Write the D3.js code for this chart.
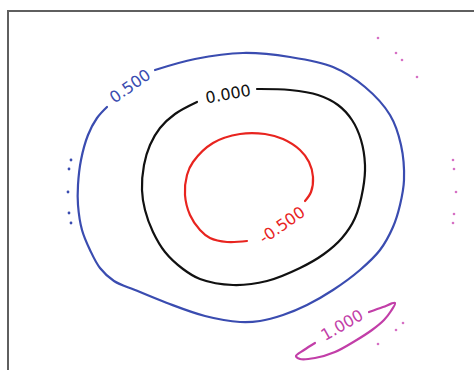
<!DOCTYPE html>
<html>
<head>
<meta charset="utf-8">
<script src="https://cdn.jsdelivr.net/npm/d3@7"></script>
<style>
  html, body { margin: 0; padding: 0; background: #fff; }
  svg { display: block; }
</style>
</head>
<body>
<svg id="chart" width="474" height="370"></svg>
<script>
// Contour levels and their colours
const levels = [-0.5, 0.0, 0.5, 1.0];
const levelColors = ["#e8241f", "#111111", "#3a4cb0", "#c23ea8"];
const levelLabels = ["-0.500", "0.000", "0.500", "1.000"];

// Contour lines (x, y), each broken where its label sits
const contourNeg05 = [
  [23.9, 14.0], [21.9, 13.9], [20.2, 14.3], [19.2, 15.1], [18.2, 16.6], [17.7, 18.6],
  [17.9, 20.6], [18.5, 21.9], [20.5, 23.8], [23.2, 24.7], [25.7, 24.7], [27.5, 24.2],
  [29.2, 23.1], [30.1, 21.9], [30.5, 20.4], [30.3, 18.9], [29.7, 18.0]
];
const contour00 = [
  [24.9, 29.2], [28.2, 29.1], [31.0, 28.6], [33.0, 27.6], [34.4, 26.1], [35.3, 24.1],
  [35.7, 21.6], [35.5, 19.2], [34.7, 16.3], [33.4, 14.3], [31.6, 12.7], [29.2, 11.3],
  [25.9, 10.0], [22.5, 9.6], [19.2, 10.2], [17.5, 11.2], [15.7, 12.9], [14.5, 14.9],
  [13.7, 17.1], [13.4, 19.1], [13.6, 21.6], [14.2, 23.6], [15.2, 25.3], [16.7, 26.7],
  [18.9, 27.9]
];
const contour05 = [
  [14.7, 31.1], [18.7, 32.2], [23.5, 32.8], [28.2, 32.4], [32.5, 31.4], [35.7, 29.4],
  [38.2, 26.6], [39.3, 23.6], [39.6, 20.1], [39.2, 17.6], [38.5, 15.4], [37.2, 13.1],
  [35.2, 11.1], [32.5, 9.1], [29.9, 7.6], [27.5, 6.6], [25.2, 6.0], [23.2, 5.9],
  [19.7, 6.5], [15.9, 7.8], [12.7, 9.1], [10.6, 10.0], [9.2, 11.3], [8.2, 13.1],
  [7.4, 15.1], [7.0, 17.6], [7.0, 19.6], [7.3, 22.1], [8.0, 24.6], [8.9, 26.3], [9.9, 27.4]
];
const contour10 = [
  [36.1, 6.9], [37.5, 7.4], [38.7, 7.8], [38.3, 7.0], [37.6, 6.1], [36.4, 5.1],
  [34.7, 4.0], [32.7, 2.9], [30.7, 2.3], [29.2, 2.2], [28.8, 2.5], [29.6, 3.1], [30.7, 3.8]
];
const contourLines = [contourNeg05, contour00, contour05, contour10];

// Tiny closed contours (islands) at levels 0.5 and 1.0
const islands05 = [[6.3, 22.1], [6.1, 21.2], [6.0, 18.9], [6.1, 16.8], [6.3, 15.8]];
const islands10 = [
  [37.0, 34.3], [38.8, 32.8], [39.4, 32.1], [40.9, 30.4],
  [44.5, 22.1], [44.6, 21.2], [44.8, 18.9], [44.6, 16.7], [44.5, 15.8],
  [39.5, 5.8], [38.8, 5.1], [37.0, 3.7]
];

// Inline label placement (x, y, rotation in degrees)
const labelPos = [[27.4, 15.6, -35], [22.0, 28.7, -10], [12.2, 29.5, -35], [33.4, 5.6, -30]];

const svg = d3.select("#chart");
const x = d3.scaleLinear().domain([0, 47]).range([8, 478]);
const y = d3.scaleLinear().domain([0, 37]).range([381, 11]);

// Axes frame (extends past the right and bottom of the view)
svg.append("rect")
  .attr("x", x(0)).attr("y", y(37))
  .attr("width", x(47) - x(0)).attr("height", y(0) - y(37))
  .attr("fill", "none").attr("stroke", "#5f5f5f").attr("stroke-width", 2);

const line = d3.line()
  .x(d => x(d[0])).y(d => y(d[1]))
  .curve(d3.curveCatmullRom.alpha(0.5));

svg.append("g").selectAll("path")
  .data(contourLines)
  .join("path")
  .attr("d", line)
  .attr("fill", "none")
  .attr("stroke", (d, i) => levelColors[i])
  .attr("stroke-width", 2.2)
  .attr("stroke-linecap", "round")
  .attr("stroke-linejoin", "round");

svg.append("g").selectAll("circle")
  .data(islands05)
  .join("circle")
  .attr("cx", d => x(d[0])).attr("cy", d => y(d[1]))
  .attr("r", 1.4).attr("fill", levelColors[2]);

svg.append("g").selectAll("circle")
  .data(islands10)
  .join("circle")
  .attr("cx", d => x(d[0])).attr("cy", d => y(d[1]))
  .attr("r", 1.3).attr("fill", "#d670c4");

svg.append("g").selectAll("text")
  .data(levels)
  .join("text")
  .attr("transform", (d, i) => `translate(${x(labelPos[i][0])},${y(labelPos[i][1])}) rotate(${labelPos[i][2]})`)
  .attr("text-anchor", "middle")
  .attr("dominant-baseline", "central")
  .attr("font-family", "DejaVu Sans, sans-serif")
  .attr("font-size", 16)
  .attr("fill", (d, i) => levelColors[i])
  .text((d, i) => levelLabels[i]);
</script>
</body>
</html>
